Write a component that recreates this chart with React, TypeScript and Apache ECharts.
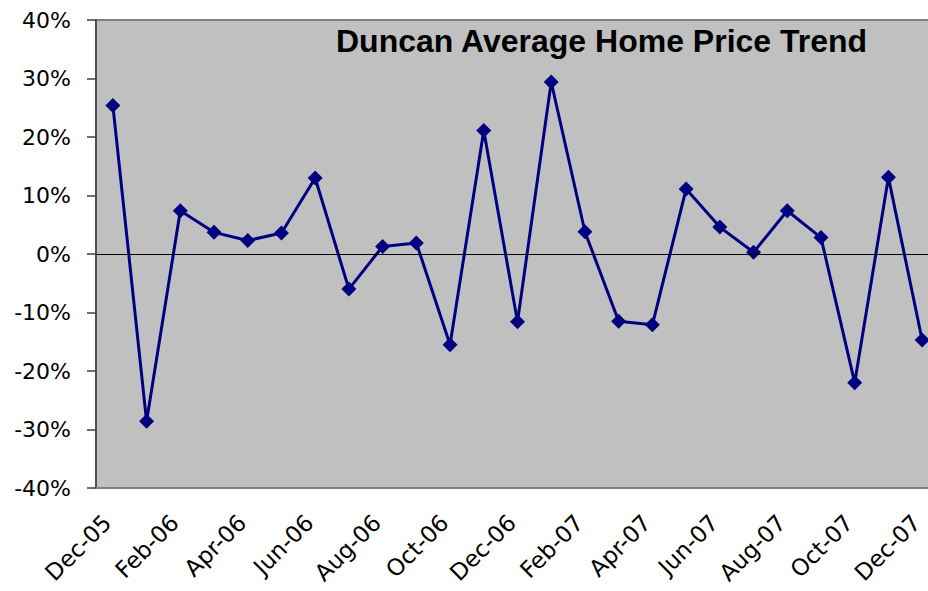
import React, { useEffect, useRef } from "react";
import * as echarts from "echarts";

const months: string[] = [
  "Dec-05", "Jan-06", "Feb-06", "Mar-06", "Apr-06", "May-06", "Jun-06",
  "Jul-06", "Aug-06", "Sep-06", "Oct-06", "Nov-06", "Dec-06", "Jan-07",
  "Feb-07", "Mar-07", "Apr-07", "May-07", "Jun-07", "Jul-07", "Aug-07",
  "Sep-07", "Oct-07", "Nov-07", "Dec-07",
];

const priceChange: number[] = [
  25.4, -28.6, 7.4, 3.7, 2.3, 3.6, 13.0, -6.0, 1.3, 1.9, -15.5, 21.1, -11.6,
  29.4, 3.8, -11.5, -12.1, 11.1, 4.6, 0.3, 7.4, 2.8, -22.0, 13.1, -14.7,
];

const chartTitle = "Duncan Average Home Price Trend";
const yMin = -40;
const yMax = 40;
const yStep = 10;

export default function App() {
  const ref = useRef<HTMLDivElement>(null);

  useEffect(() => {
    if (!ref.current) return;
    const chart = echarts.init(ref.current, undefined, { renderer: "svg" });
    const labelFont = "DejaVu Sans, Liberation Sans, Arial, sans-serif";
    chart.setOption({
      animation: false,
      backgroundColor: "#ffffff",
      title: {
        text: chartTitle,
        left: 336,
        top: 25,
        padding: 0,
        textStyle: {
          fontFamily: "Liberation Sans, Arial, sans-serif",
          fontWeight: "bold",
          fontSize: 32,
          color: "#000000",
        },
      },
      grid: {
        left: 96,
        top: 20,
        bottom: 103,
        right: -11,
        outerBoundsMode: "none",
        containLabel: false,
        show: true,
        backgroundColor: "#C0C0C0",
        borderColor: "#808080",
        borderWidth: 2,
      },
      xAxis: {
        type: "category",
        data: months,
        boundaryGap: true,
        axisLine: { show: true, onZero: false, lineStyle: { color: "#808080", width: 2 } },
        axisTick: { show: false },
        splitLine: { show: false },
        axisLabel: {
          interval: 1,
          rotate: 45,
          align: "right",
          verticalAlign: "middle",
          margin: 25,
          padding: [0, 8, 0, 0],
          fontSize: 23,
          fontFamily: labelFont,
          color: "#000000",
        },
      },
      yAxis: {
        type: "value",
        min: yMin,
        max: yMax,
        interval: yStep,
        axisLine: { show: true, lineStyle: { color: "#404040", width: 1.5 } },
        axisTick: { show: true, length: 9, lineStyle: { color: "#404040", width: 1.5 } },
        splitLine: { show: false },
        axisLabel: {
          formatter: "{value}%",
          margin: 25,
          fontSize: 22,
          fontFamily: labelFont,
          color: "#000000",
        },
      },
      series: [
        {
          type: "line",
          data: priceChange,
          symbol: "diamond",
          symbolSize: 15,
          lineStyle: { color: "#000080", width: 3 },
          itemStyle: { color: "#000080" },
          markLine: {
            silent: true,
            symbol: "none",
            label: { show: false },
            lineStyle: { color: "#000000", width: 1, type: "solid" },
            data: [{ yAxis: 0 }],
          },
          z: 3,
        },
      ],
    });
    return () => chart.dispose();
  }, []);

  return (
    <div
      ref={ref}
      style={{ position: "fixed", left: 0, top: 0, width: 928, height: 591 }}
    />
  );
}
